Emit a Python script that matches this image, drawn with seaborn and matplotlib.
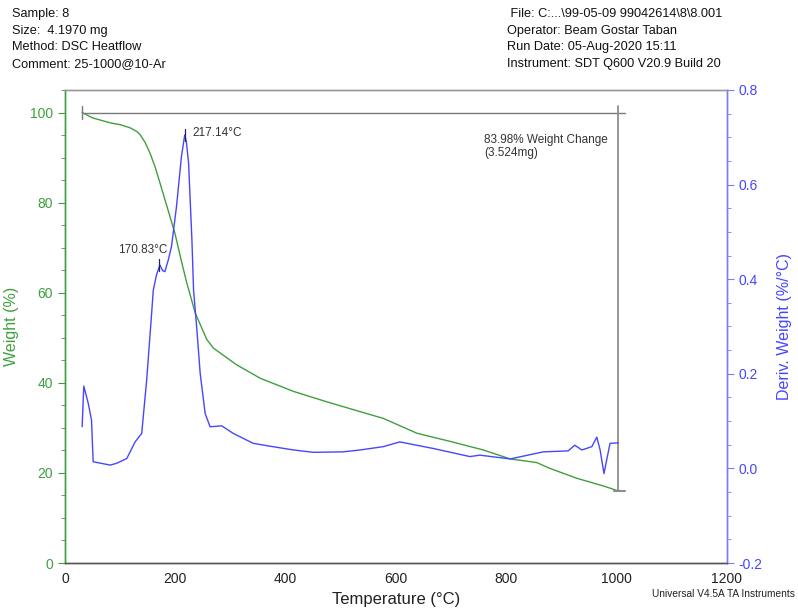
import pandas as pd
import matplotlib.pyplot as plt
import seaborn as sns
from matplotlib.ticker import MultipleLocator

sns.set_style("white")
plt.rcParams["font.family"] = ["Liberation Sans", "DejaVu Sans"]

GREEN = "#3f9f3f"
BLUE = "#4646ff"
GRAY = "#555555"

# ---------- data ----------
temp_w = [31, 50, 82, 100, 118, 130, 136, 145, 154, 163, 172, 190, 199, 210, 220,
          236, 257, 269, 311, 354, 414, 474, 535, 577, 638, 698, 758, 807, 855, 879,
          928, 976, 1003]
weight = [100.0, 98.8, 97.7, 97.3, 96.6, 95.8, 95.1, 93.4, 91.0, 88.0, 84.4, 77.0,
          73.3, 67.5, 62.5, 55.5, 49.6, 47.7, 44.0, 41.0, 38.1, 35.8, 33.6, 32.1,
          28.8, 27.0, 25.1, 23.1, 22.3, 21.0, 18.8, 17.1, 16.0]

temp_d = [31, 34, 42, 48, 51, 82, 94, 112, 127, 139, 148, 157, 160, 166, 172, 177,
          181, 187, 193, 202, 211, 217, 220, 224, 230, 233, 239, 245, 254, 263, 284,
          305, 341, 366, 414, 450, 504, 535, 577, 607, 668, 734, 752, 807, 867, 912,
          924, 937, 955, 964, 970, 977, 988, 1003]
deriv = [0.088, 0.174, 0.138, 0.102, 0.014, 0.007, 0.011, 0.021, 0.056, 0.074, 0.187,
         0.328, 0.377, 0.41, 0.430, 0.418, 0.416, 0.440, 0.469, 0.553, 0.659, 0.705,
         0.690, 0.645, 0.483, 0.377, 0.293, 0.201, 0.116, 0.088, 0.090, 0.074, 0.053,
         0.048, 0.039, 0.034, 0.035, 0.039, 0.046, 0.056, 0.042, 0.025, 0.028, 0.020,
         0.035, 0.037, 0.049, 0.039, 0.046, 0.066, 0.039, -0.011, 0.053, 0.054]

peaks_t = [217.14, 170.83]
peaks_d = [0.705, 0.430]
weight_change = 83.98
mass_change = 3.524

header_left = ["Sample: 8", "Size:  4.1970 mg", "Method: DSC Heatflow",
               "Comment: 25-1000@10-Ar"]
header_right = [" File: C:...\\99-05-09 99042614\\8\\8.001",
                "Operator: Beam Gostar Taban", "Run Date: 05-Aug-2020 15:11",
                "Instrument: SDT Q600 V20.9 Build 20"]

df_w = pd.DataFrame({"Temperature": temp_w, "Weight": weight})
df_d = pd.DataFrame({"Temperature": temp_d, "Deriv": deriv})

fig = plt.figure(figsize=(7.98, 6.08), dpi=100)
ax = fig.add_axes([0.0815, 0.074, 0.8295, 0.778])
ax2 = ax.twinx()

sns.lineplot(data=df_w, x="Temperature", y="Weight", ax=ax, color=GREEN,
             lw=1.0, estimator=None, sort=False)
sns.lineplot(data=df_d, x="Temperature", y="Deriv", ax=ax2, color=BLUE,
             lw=1.0, estimator=None, sort=False)

ax.set_xlim(0, 1200)
ax.set_ylim(0, 105)
ax2.set_ylim(-0.2, 0.8)
ax.xaxis.set_major_locator(MultipleLocator(200))
ax.xaxis.set_minor_locator(MultipleLocator(50))
ax.yaxis.set_major_locator(MultipleLocator(20))
ax.yaxis.set_minor_locator(MultipleLocator(5))
ax2.yaxis.set_major_locator(MultipleLocator(0.2))
ax2.yaxis.set_minor_locator(MultipleLocator(0.05))
ax2.yaxis.set_major_formatter(plt.FormatStrFormatter("%.1f"))

ax.set_xlabel("Temperature (°C)", fontsize=12, color="#222222", labelpad=4)
ax.set_ylabel("Weight (%)", fontsize=11.5, color=GREEN, labelpad=8)
ax2.set_ylabel("Deriv. Weight (%/°C)", fontsize=11.5, color=BLUE, labelpad=10)

ax.tick_params(axis="x", which="both", direction="inout", colors=GRAY,
               labelcolor="#222222", labelsize=10)
ax.tick_params(axis="x", which="major", length=6)
ax.tick_params(axis="x", which="minor", length=4)
ax.tick_params(axis="y", which="both", direction="out", colors=GREEN, labelsize=10)
ax.tick_params(axis="y", which="major", length=5, left=True)
ax.tick_params(axis="y", which="minor", length=3, left=True)
ax2.tick_params(axis="y", which="both", direction="out", colors="#7b7bff",
                labelcolor=BLUE, labelsize=10)
ax2.tick_params(axis="y", which="major", length=5)
ax2.tick_params(axis="y", which="minor", length=3)

for a in (ax, ax2):
    a.spines["top"].set_color("#999999")
    a.spines["bottom"].set_color(GRAY)
    a.spines["left"].set_color(GREEN)
    a.spines["right"].set_color("#7b7bff")
    for s in a.spines.values():
        s.set_linewidth(1.0)
ax.grid(False)
ax2.grid(False)

# weight change bracket
t0, t1 = temp_w[0], temp_w[-1]
w0, w1 = weight[0], weight[-1]
bc = "#7a7a7a"
ax.plot([t0, t1 + 12], [w0, w0], color=bc, lw=1.0)
ax.plot([t1, t1], [w0 + 1.5, w1], color="#8c8c8c", lw=1.3)
ax.plot([t1 - 8, t1 + 12], [w1, w1], color="#8c8c8c", lw=1.5)
ax.plot([t0, t0], [w0 - 1.4, w0 + 1.4], color=bc, lw=1.0)
ax.text(760, 95.3, f"{weight_change:.2f}% Weight Change\n({mass_change:.3f}mg)",
        fontsize=8.5, color="#333333", va="top", ha="left", linespacing=1.15)

# peak markers
for t, d in zip(peaks_t, peaks_d):
    ax2.plot([t, t], [d - 0.013, d + 0.013], color="#222266", lw=0.9)
ax2.text(peaks_t[0] + 14, peaks_d[0] + 0.004, f"{peaks_t[0]:.2f}°C", fontsize=8.5,
         color="#333333", va="center", ha="left")
ax2.text(peaks_t[1] + 14, peaks_d[1] + 0.032, f"{peaks_t[1]:.2f}°C", fontsize=8.5,
         color="#333333", va="center", ha="right")

# header block
for i, line in enumerate(header_left):
    fig.text(12 / 798, 1 - (14 + i * 16.7) / 608, line, fontsize=9.2,
             color="#111111", va="center", ha="left")
for i, line in enumerate(header_right):
    fig.text(507 / 798, 1 - (14 + i * 16.7) / 608, line, fontsize=9.2,
             color="#111111", va="center", ha="left")
fig.text(795 / 798, 1 - 594 / 608, "Universal V4.5A TA Instruments", fontsize=7.3,
         color="#222222", va="center", ha="right")

fig.savefig("out.png", dpi=100)
